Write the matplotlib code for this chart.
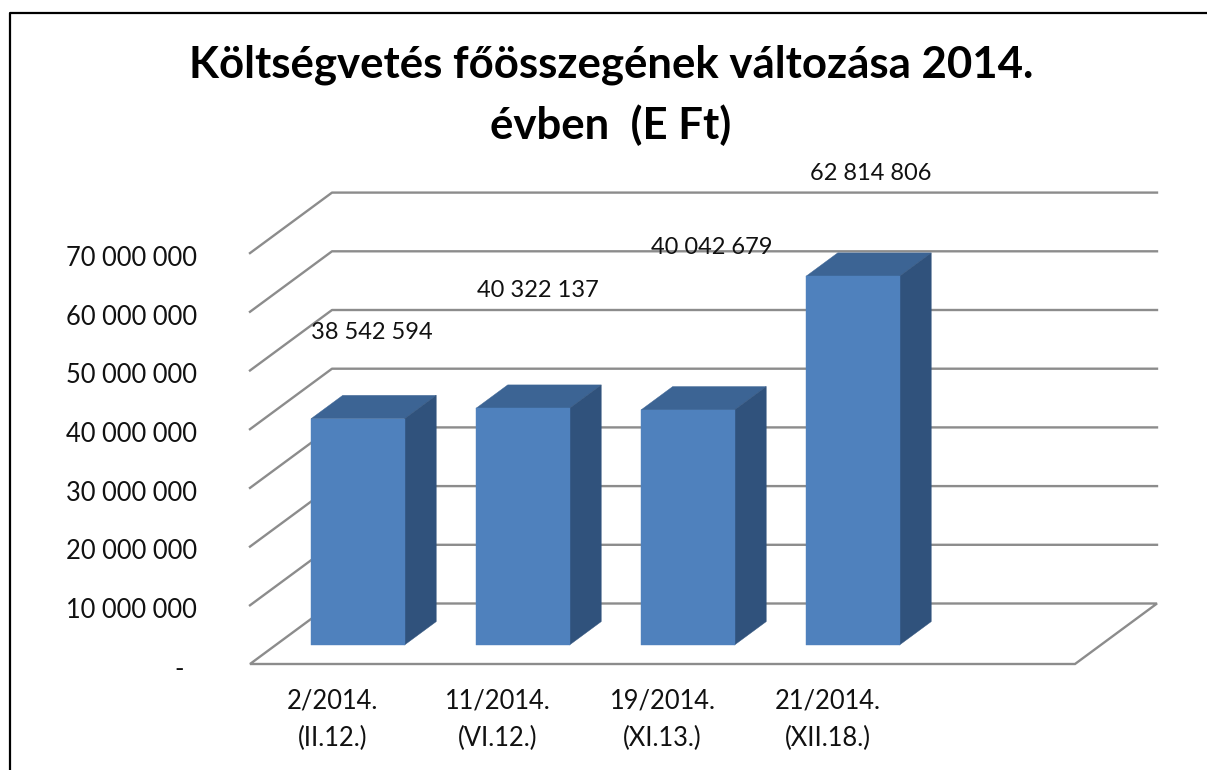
import matplotlib
matplotlib.use("Agg")
import matplotlib.pyplot as plt
from matplotlib.patches import Polygon, Rectangle
from matplotlib.transforms import ScaledTranslation

categories = ["2/2014.\n(II.12.)", "11/2014.\n(VI.12.)", "19/2014.\n(XI.13.)", "21/2014.\n(XII.18.)"]
values = [38542594, 40322137, 40042679, 62814806]
value_labels = ["38 542 594", "40 322 137", "40 042 679", "62 814 806"]
y_ticks = [0, 10000000, 20000000, 30000000, 40000000, 50000000, 60000000, 70000000]
y_tick_labels = ["-  ", "10 000 000", "20 000 000", "30 000 000", "40 000 000",
                 "50 000 000", "60 000 000", "70 000 000"]
title = "Költségvetés főösszegének változása 2014.\névben  (E Ft)"

W, H = 1207, 770
plt.rcParams["font.family"] = ["Lato", "DejaVu Sans"]

fig = plt.figure(figsize=(W / 100, H / 100), dpi=100)
fig.patch.set_facecolor("white")

# plot area = floor front line up to the top of the back wall, in pixels
left, right, bottom, top = 250, 1157, 664, 192.7
ax = fig.add_axes([left / W, 1 - bottom / H, (right - left) / W, (bottom - top) / H])
ax.patch.set_visible(False)
for s in ax.spines.values():
    s.set_visible(False)

cat_w = 165  # px per category
unit = 58.7 / 1e7  # px per value
ax.set_xlim(-0.5, -0.5 + (right - left) / cat_w)
ax.set_ylim(0, (bottom - top) / unit)

# fake 3d: going back one depth unit shifts right and up
dx = 82 / cat_w
dy = 60.5 / unit


def off(x, y, d):
    return (x + dx * d, y + dy * d)


grid = "#8c8c8c"
x0, x1 = -0.5, 4.5

# walls
for v in y_ticks[1:]:
    a = off(x0, v, 0)
    b = off(x0, v, 1)
    c = off(x1, v, 1)
    ax.plot([a[0], b[0], c[0]], [a[1], b[1], c[1]], color=grid, lw=1.7, clip_on=False, zorder=1)

# floor
floor = [off(x0, 0, 0), off(x1, 0, 0), off(x1, 0, 1), off(x0, 0, 1)]
ax.add_patch(Polygon(floor, closed=True, fc="white", ec=grid, lw=1.7, clip_on=False, zorder=2))

# bars
bar_w = 93.5 / cat_w
bar_shift = -0.5 / cat_w
d_front = 19 / 60.5
d_back = d_front + 23.4 / 60.5
for i, v in enumerate(values):
    xa = i + bar_shift - bar_w / 2
    xb = i + bar_shift + bar_w / 2
    p0 = off(xa, 0, d_front)
    top_face = [off(xa, v, d_front), off(xb, v, d_front), off(xb, v, d_back), off(xa, v, d_back)]
    ax.add_patch(Polygon(top_face, closed=True, fc="#3C6494", ec="#3C6494", lw=0.3, clip_on=False, zorder=3))
    side_face = [off(xb, 0, d_front), off(xb, 0, d_back), off(xb, v, d_back), off(xb, v, d_front)]
    ax.add_patch(Polygon(side_face, closed=True, fc="#30527C", ec="#30527C", lw=0.3, clip_on=False, zorder=3))
    ax.add_patch(Rectangle(p0, bar_w, v, fc="#4F81BD", ec="#4F81BD", lw=0.3, clip_on=False, zorder=4))

# data labels sit well above the bars, different for each one
label_off = [(14, 86), (15, 118), (23, 162), (17, 103)]
for i, v in enumerate(values):
    ax.annotate(value_labels[i], off(i, v, d_front), xytext=label_off[i], textcoords="offset pixels",
                ha="center", va="center", fontsize=17, color="#111111", zorder=5, annotation_clip=False)

ax.set_yticks(y_ticks)
ax.set_yticklabels(y_tick_labels, fontsize=18.4, color="#111111")
ax.set_xticks(range(len(categories)))
ax.set_xticklabels(categories, fontsize=18.4, color="#111111", linespacing=1.6)
ax.tick_params(axis="y", length=0, pad=38)
ax.tick_params(axis="x", length=0, pad=18)
shift = ScaledTranslation(0, -2 / 72, fig.dpi_scale_trans)
for lab in ax.get_yticklabels():
    lab.set_transform(lab.get_transform() + shift)

fig.text(611 / W, 1 - 95 / H, title, ha="center", va="center", fontsize=31.5, fontweight="bold",
         color="black", linespacing=1.57)

# chart frame, only the left and top edges show
fig.add_artist(plt.Line2D([10 / W, 10 / W, 1 + 0.01], [0, 1 - 12.7 / H, 1 - 12.7 / H],
                          color="black", lw=1.6))

fig.savefig("out.png", dpi=100, facecolor="white")
